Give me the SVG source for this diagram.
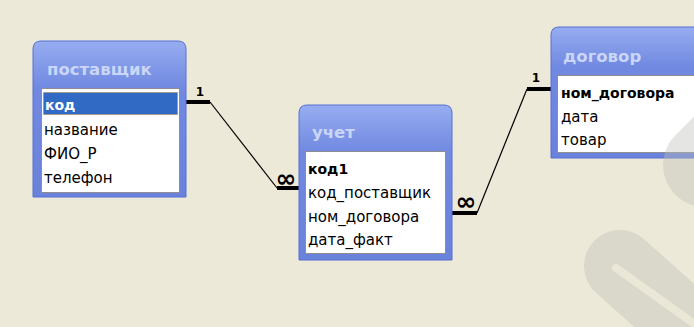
<svg xmlns="http://www.w3.org/2000/svg" width="694" height="327" viewBox="0 0 694 327">
<defs>
<linearGradient id="fr" x1="0" y1="0" x2="0" y2="1">
<stop offset="0" stop-color="#97ADF1"/>
<stop offset="0.3" stop-color="#7189E1"/>
<stop offset="1" stop-color="#6A82DC"/>
</linearGradient>
</defs>
<style>
.frame{fill:url(#fr);stroke:#5670D4;stroke-width:1}
.list{fill:#FFFFFF;stroke:#8E8E8E;stroke-width:1}
.title{font-family:"DejaVu Sans",sans-serif;font-weight:bold;font-size:16.5px;fill:#C9D6F7}
.f{font-family:"DejaVu Sans",sans-serif;font-size:15px;fill:#000}
.b{font-family:"DejaVu Sans",sans-serif;font-size:14px;font-weight:bold;fill:#000}
.thick{stroke:#000;stroke-width:4;fill:none}
.thin{stroke:#000;stroke-width:1.2;fill:none}
.lbl{font-family:"DejaVu Sans",sans-serif;font-weight:bold;font-size:12px;fill:#000;text-anchor:middle}
.inf{font-family:"DejaVu Sans",sans-serif;font-weight:bold;font-size:25px;fill:#000;text-anchor:middle}
.wm{fill:none;stroke:#BEBDB8;stroke-opacity:0.4;stroke-linecap:round}
</style>
<rect x="0" y="0" width="694" height="327" fill="#ECE9D8"/>

<g id="connectors">
<path class="thick" d="M186,102 H210"/>
<path class="thin" d="M210,102 L277,188"/>
<path class="thick" d="M277,188 H299"/>
<text class="lbl" x="200" y="96">1</text>
<text class="inf" x="286" y="187">∞</text>
<path class="thick" d="M452,213 H477"/>
<path class="thin" d="M477,213 L527,89"/>
<path class="thick" d="M527,89 H551"/>
<text class="lbl" x="536" y="82">1</text>
<text class="inf" x="466" y="210">∞</text>
</g>

<g id="node-postavshchik">
<path class="frame" d="M33,197 V49 Q33,41 41,41 H178 Q186,41 186,49 V197 Z"/>
<text class="title" x="47" y="75">поставщик</text>
<rect class="list" x="41.5" y="88.5" width="138" height="104"/>
<rect x="43.5" y="92.5" width="134" height="22" fill="#316AC5" stroke="#B08440" stroke-dasharray="1 1"/>
<text class="b" x="45" y="110" style="fill:#FFFFFF">код</text>
<text class="f" x="44" y="135">название</text>
<text class="f" x="44" y="159">ФИО_Р</text>
<text class="f" x="44" y="183">телефон</text>
</g>

<g id="node-uchet">
<path class="frame" d="M299,260 V113 Q299,105 307,105 H444 Q452,105 452,113 V260 Z"/>
<text class="title" x="312" y="138">учет</text>
<rect class="list" x="305.5" y="151.5" width="140" height="102"/>
<text class="b" x="308" y="174">код1</text>
<text class="f" x="308" y="198">код_поставщик</text>
<text class="f" x="308" y="222">ном_договора</text>
<text class="f" x="308" y="245">дата_факт</text>
</g>

<g id="node-dogovor">
<path class="frame" d="M551,158 V35 Q551,27 559,27 H720 V158 Z"/>
<text class="title" x="563" y="62">договор</text>
<rect class="list" x="557.5" y="75.5" width="150" height="77"/>
<text class="b" x="561" y="98">ном_договора</text>
<text class="f" x="561" y="122">дата</text>
<text class="f" x="561" y="145">товар</text>
</g>

<g id="watermark">
<path class="wm" stroke-width="72" d="M620,266 L770,400"/>
<path fill="none" stroke="#ECE9D8" stroke-opacity="0.9" stroke-width="8" stroke-linecap="round" d="M616,268 L710,335"/>
<path class="wm" stroke-width="84" d="M705,165 L760,110"/>
</g>
</svg>
